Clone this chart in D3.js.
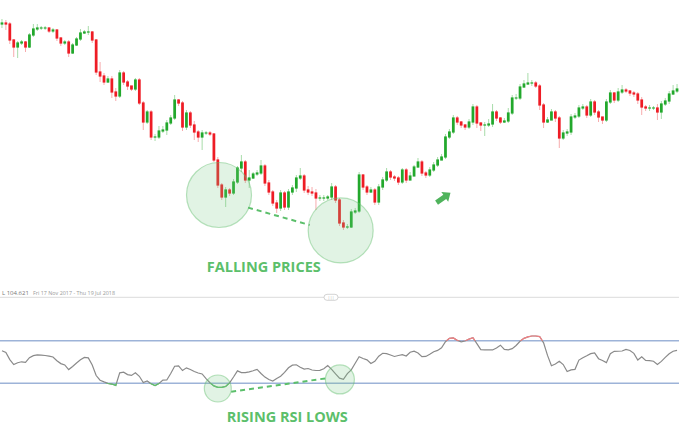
<!DOCTYPE html>
<meta charset="utf-8"/>
<title>Falling prices, rising RSI lows</title>
<script src="https://d3js.org/d3.v7.min.js"></script>
<style>
  body { margin: 0; background: #fff; }
  svg { display: block; font-family: 'Open Sans', sans-serif; }
</style>
<svg width=679 height=433></svg>
<script>
  // daily candles, open = previous close
  const firstOpen = 114.80;
  const close = [
    114.85, 114.80, 114.00, 113.65, 113.85, 113.90, 113.65, 114.25, 114.55, 114.60,
    114.60, 114.60, 114.45, 114.50, 114.10, 113.85, 113.90, 113.35, 113.75, 114.05,
    114.35, 114.40, 114.40, 114.00, 112.40, 112.20, 111.90, 112.05, 111.40, 111.20,
    112.35, 111.90, 111.70, 111.55, 112.00, 110.85, 109.90, 110.40, 109.15, 109.15,
    109.45, 109.50, 109.85, 110.10, 111.00, 110.85, 109.65, 110.35, 109.75, 109.40,
    109.15, 109.35, 109.35, 109.30, 108.00, 106.75, 106.15, 106.50, 106.35, 106.90,
    107.60, 107.90, 107.00, 107.10, 107.30, 107.35, 107.70, 106.85, 106.40, 105.85,
    105.60, 106.35, 105.65, 106.40, 106.60, 107.10, 107.20, 106.50, 106.40, 106.35,
    106.10, 106.10, 106.10, 106.15, 106.65, 106.00, 104.85, 104.65, 104.65, 105.40,
    105.45, 107.25, 106.65, 106.40, 106.50, 105.90, 106.65, 107.00, 107.40, 107.15,
    107.10, 106.90, 107.50, 107.00, 107.20, 107.65, 107.90, 107.35, 107.25, 107.50,
    107.75, 108.00, 108.15, 109.15, 109.40, 110.10, 109.90, 109.75, 109.65, 109.90,
    110.65, 109.85, 109.75, 109.75, 109.80, 110.40, 110.10, 109.90, 109.95, 110.35,
    111.10, 111.10, 111.65, 111.80, 111.85, 111.85, 111.70, 110.75, 109.90, 110.00,
    110.40, 110.10, 109.10, 109.35, 109.40, 110.15, 110.20, 110.60, 110.65, 110.25,
    110.90, 110.40, 110.15, 110.00, 110.90, 111.35, 111.00, 111.40, 111.50, 111.45,
    111.35, 111.30, 111.00, 110.65, 110.60, 110.60, 110.60, 110.40, 110.80, 110.95,
    111.30, 111.45, 111.55
  ];
  const high = [
    115.05, 115.00, 114.90, 114.05, 113.95, 114.00, 113.95, 114.35, 114.80, 114.80,
    114.70, 114.70, 114.65, 114.60, 114.55, 114.15, 114.00, 114.00, 113.85, 114.15,
    114.55, 114.50, 114.70, 114.45, 114.05, 112.90, 112.35, 112.20, 112.20, 111.60,
    112.50, 112.45, 112.00, 111.70, 112.10, 112.10, 110.95, 110.50, 110.50, 109.30,
    109.70, 109.70, 110.00, 110.25, 111.25, 111.05, 110.95, 110.50, 110.45, 109.95,
    109.50, 109.50, 109.45, 109.45, 109.35, 108.15, 106.85, 106.65, 106.60, 107.05,
    107.70, 108.25, 108.00, 107.50, 107.40, 107.50, 108.00, 107.80, 107.00, 106.50,
    106.00, 106.50, 106.45, 106.55, 106.75, 107.25, 107.60, 107.30, 106.70, 106.65,
    106.55, 106.25, 106.25, 106.25, 106.85, 106.75, 106.10, 105.00, 104.80, 105.55,
    105.60, 107.40, 107.30, 106.75, 106.65, 106.60, 106.80, 107.15, 107.60, 107.50,
    107.25, 107.20, 107.60, 107.60, 107.40, 107.75, 108.10, 108.00, 107.45, 107.65,
    107.90, 108.15, 108.30, 109.30, 109.55, 110.25, 110.20, 109.95, 109.80, 110.05,
    110.80, 110.75, 109.90, 109.90, 110.05, 110.80, 110.50, 110.15, 110.10, 110.60,
    111.25, 111.30, 111.80, 112.00, 112.35, 112.00, 111.95, 111.80, 110.85, 110.15,
    110.55, 110.50, 110.20, 109.50, 109.55, 110.30, 110.35, 110.75, 110.80, 110.75,
    111.05, 111.00, 110.50, 110.15, 111.05, 111.50, 111.40, 111.60, 111.75, 111.60,
    111.50, 111.45, 111.40, 111.15, 110.75, 110.75, 110.70, 110.80, 110.95, 111.10,
    111.45, 111.75, 111.80
  ];
  const low = [
    114.60, 114.50, 113.80, 113.15, 113.10, 113.75, 113.40, 113.60, 114.15, 114.45,
    114.50, 114.50, 114.35, 114.35, 113.95, 113.70, 113.75, 113.15, 113.30, 113.70,
    113.95, 114.30, 114.25, 113.85, 112.25, 111.90, 111.75, 111.85, 111.10, 110.95,
    111.10, 111.75, 111.50, 111.45, 111.45, 110.75, 109.50, 109.80, 109.00, 108.95,
    109.05, 109.35, 109.25, 109.75, 110.00, 110.70, 109.45, 109.50, 109.60, 109.00,
    108.90, 108.50, 109.25, 109.20, 107.90, 106.60, 106.00, 105.65, 106.20, 106.25,
    106.80, 107.40, 106.85, 106.60, 107.05, 107.20, 107.25, 106.70, 106.25, 105.70,
    105.35, 105.45, 105.50, 105.50, 106.25, 106.40, 107.00, 106.35, 106.25, 106.20,
    105.50, 105.95, 105.95, 106.00, 106.00, 105.85, 104.70, 104.50, 104.55, 104.60,
    105.30, 105.35, 106.50, 106.25, 106.35, 105.75, 105.75, 106.50, 106.90, 107.00,
    106.95, 106.75, 106.80, 106.85, 107.00, 107.40, 107.60, 107.20, 107.10, 107.15,
    107.40, 107.65, 108.00, 108.05, 109.05, 109.30, 109.75, 109.60, 109.50, 109.55,
    109.75, 109.60, 109.45, 109.20, 109.65, 109.65, 109.95, 109.80, 109.85, 109.85,
    110.25, 111.00, 111.00, 111.60, 111.75, 111.70, 111.60, 110.50, 109.60, 109.85,
    110.25, 109.90, 108.60, 109.00, 109.20, 109.25, 110.05, 110.10, 110.50, 110.10,
    110.15, 110.25, 109.90, 109.80, 109.90, 110.80, 110.85, 110.90, 111.30, 111.35,
    111.20, 111.15, 110.80, 110.25, 110.45, 110.45, 110.50, 110.00, 110.05, 110.70,
    110.80, 111.25, 111.35
  ];
  // RSI(14), one value per candle
  const rsi = [
    60.6, 59.0, 52.3, 47.6, 49.3, 50.2, 49.7, 54.1, 56.0, 56.6,
    56.5, 56.1, 55.5, 54.7, 51.2, 48.5, 47.2, 42.9, 45.8, 49.1,
    52.1, 54.3, 53.9, 47.2, 37.3, 32.9, 31.3, 29.9, 29.3, 28.0,
    39.8, 40.5, 38.2, 37.4, 39.9, 36.6, 30.7, 32.2, 29.5, 27.8,
    29.9, 33.0, 33.1, 39.2, 46.0, 46.4, 42.0, 44.5, 42.9, 41.1,
    39.7, 38.8, 34.4, 30.5, 27.6, 26.2, 26.2, 27.1, 30.5, 35.9,
    41.7, 40.0, 40.0, 40.7, 41.8, 43.1, 39.2, 35.8, 33.6, 32.1,
    34.5, 36.6, 40.2, 44.6, 47.0, 47.4, 45.1, 43.3, 43.9, 42.5,
    42.0, 42.2, 43.6, 46.6, 43.1, 38.8, 34.8, 33.8, 39.1, 42.6,
    48.8, 54.9, 53.3, 52.0, 48.6, 50.7, 55.4, 58.2, 57.8, 56.6,
    55.2, 56.1, 56.9, 55.6, 59.2, 60.2, 58.4, 55.0, 55.2, 57.2,
    59.7, 60.9, 63.3, 69.0, 72.2, 72.6, 70.3, 69.0, 69.7, 71.5,
    72.9, 67.3, 61.6, 61.3, 61.3, 61.3, 63.2, 65.8, 61.9, 61.4,
    62.5, 65.5, 69.5, 72.2, 73.6, 74.4, 74.4, 73.9, 68.0, 56.2,
    46.5, 48.1, 50.7, 47.6, 41.1, 42.6, 43.1, 51.8, 54.0, 55.8,
    57.8, 58.6, 53.1, 51.4, 49.4, 57.8, 60.0, 60.1, 60.3, 61.8,
    60.8, 58.1, 51.9, 54.9, 51.4, 51.3, 50.7, 47.7, 50.6, 54.3,
    57.7, 60.1, 60.9
  ];
  const rsiLevels = [70, 30];
  const headerLow = "L 104.621";
  const headerRange = "Fri 17 Nov 2017 - Thu 19 Jul 2018";

  // annotations, in candle index / price / rsi units
  const priceCircles = [[55.8, 106.25], [86.8, 104.48]];
  const priceTrend = [[63.2, 105.62], [78.9, 104.75]];
  const rsiCircles = [[55.5, 25.1, 13.5], [86.6, 33.6, 14.5]];
  const rsiTrend = [[58.9, 22.1], [83.1, 34.7]];
  const upArrow = [112.9, 106.1];
  const priceLabel = ["FALLING PRICES", 67.2, 102.4];
  const rsiLabel = ["RISING RSI LOWS", 73.2, 3.8];

  const W = 679, N = close.length;
  const svg = d3.select('svg');

  const x = d3.scaleLinear().domain([0, N]).range([0, W]);
  const y = d3.scaleLinear().domain([104.5, 115]).range([230, 20]);
  const r = d3.scaleLinear().domain([30, 70]).range([383.3, 340.7]);
  const bodyW = (x(1) - x(0)) * 0.7;

  const candles = close.map(function (c, i) {
    return {i: i, o: i ? close[i - 1] : firstOpen, c: c, h: high[i], l: low[i]};
  });

  const red = '#ee1c25', green = '#22a82c';
  const annot = '#5cbf6b';

  // candles
  const cg = svg.append('g');
  cg.selectAll('line').data(candles).enter().append('line')
    .attr('x1', d => x(d.i + 0.5)).attr('x2', d => x(d.i + 0.5))
    .attr('y1', d => y(d.h)).attr('y2', d => y(d.l))
    .style('stroke', d => d.c >= d.o ? '#a8dcaa' : '#f7abad')
    .style('stroke-width', 1);
  cg.selectAll('rect').data(candles).enter().append('rect')
    .attr('x', d => x(d.i + 0.5) - bodyW / 2)
    .attr('width', bodyW)
    .attr('y', d => y(Math.max(d.o, d.c)) - 0.6)
    .attr('height', d => Math.abs(y(d.o) - y(d.c)) + 1.2)
    .style('fill', d => d.c >= d.o ? green : red);

  // price annotations
  svg.selectAll('circle.pc').data(priceCircles).enter().append('circle')
    .attr('cx', d => x(d[0])).attr('cy', d => y(d[1])).attr('r', 32.5)
    .style('fill', 'rgba(120,200,130,0.22)')
    .style('stroke', 'rgba(100,190,110,0.45)').style('stroke-width', 1.2);
  svg.append('line')
    .attr('x1', x(priceTrend[0][0])).attr('y1', y(priceTrend[0][1]))
    .attr('x2', x(priceTrend[1][0])).attr('y2', y(priceTrend[1][1]))
    .style('stroke', annot).style('stroke-width', 2).style('stroke-dasharray', '5 4');
  svg.append('path')
    .attr('d', 'M-8,-2.5 L2,-2.5 L2,-6 L9,0 L2,6 L2,2.5 L-8,2.5 Z')
    .attr('transform', 'translate(' + x(upArrow[0]) + ',' + y(upArrow[1]) + ')rotate(-35)')
    .style('fill', '#4fb35c');
  svg.append('text')
    .attr('x', x(priceLabel[1])).attr('y', y(priceLabel[2]))
    .attr('text-anchor', 'middle')
    .style('font-size', '14.5px').style('font-weight', 700).style('fill', annot)
    .text(priceLabel[0]);

  // header strip
  svg.append('line').attr('x1', 0).attr('x2', W).attr('y1', 297.3).attr('y2', 297.3)
    .style('stroke', '#e2e2e2').style('stroke-width', 1.2);
  svg.append('text').attr('x', 2).attr('y', 295)
    .style('font-size', '6px').style('fill', '#777').text(headerLow);
  svg.append('text').attr('x', 33).attr('y', 295)
    .style('font-size', '5.4px').style('fill', '#999').text(headerRange);
  svg.append('rect').attr('x', 324).attr('y', 294.3).attr('width', 14).attr('height', 6).attr('rx', 3)
    .style('fill', '#fff').style('stroke', '#c8c8c8').style('stroke-width', 0.8);
  svg.append('text').attr('x', 331).attr('y', 299).attr('text-anchor', 'middle')
    .style('font-size', '4px').style('fill', '#aaa').text('|||');

  // RSI panel
  svg.selectAll('line.lvl').data(rsiLevels).enter().append('line')
    .attr('x1', 0).attr('x2', W).attr('y1', d => r(d)).attr('y2', d => r(d))
    .style('stroke', '#9db3d8').style('stroke-width', 1.6);

  const rsiLine = d3.line().x((d, i) => x(i + 0.5)).y(d => r(d));
  const defs = svg.append('defs');
  defs.append('clipPath').attr('id', 'ob').append('rect')
    .attr('x', 0).attr('y', 300).attr('width', W).attr('height', r(70) - 300);
  defs.append('clipPath').attr('id', 'os').append('rect')
    .attr('x', 0).attr('y', r(30)).attr('width', W).attr('height', 433 - r(30));
  svg.append('path').datum(rsi).attr('d', rsiLine)
    .style('fill', 'none').style('stroke', '#8a8a8a').style('stroke-width', 1.2);
  svg.append('path').datum(rsi).attr('d', rsiLine).attr('clip-path', 'url(#ob)')
    .style('fill', 'none').style('stroke', '#f27f82').style('stroke-width', 1.2);
  svg.append('path').datum(rsi).attr('d', rsiLine).attr('clip-path', 'url(#os)')
    .style('fill', 'none').style('stroke', '#5cc468').style('stroke-width', 1.2);

  svg.selectAll('circle.rc').data(rsiCircles).enter().append('circle')
    .attr('cx', d => x(d[0])).attr('cy', d => r(d[1])).attr('r', d => d[2])
    .style('fill', 'rgba(120,200,130,0.22)')
    .style('stroke', 'rgba(100,190,110,0.45)').style('stroke-width', 1.2);
  svg.append('line')
    .attr('x1', x(rsiTrend[0][0])).attr('y1', r(rsiTrend[0][1]))
    .attr('x2', x(rsiTrend[1][0])).attr('y2', r(rsiTrend[1][1]))
    .style('stroke', annot).style('stroke-width', 2).style('stroke-dasharray', '5 4');
  svg.append('text')
    .attr('x', x(rsiLabel[1])).attr('y', 422)
    .attr('text-anchor', 'middle')
    .style('font-size', '14.5px').style('font-weight', 700).style('fill', annot)
    .text(rsiLabel[0]);
</script>
